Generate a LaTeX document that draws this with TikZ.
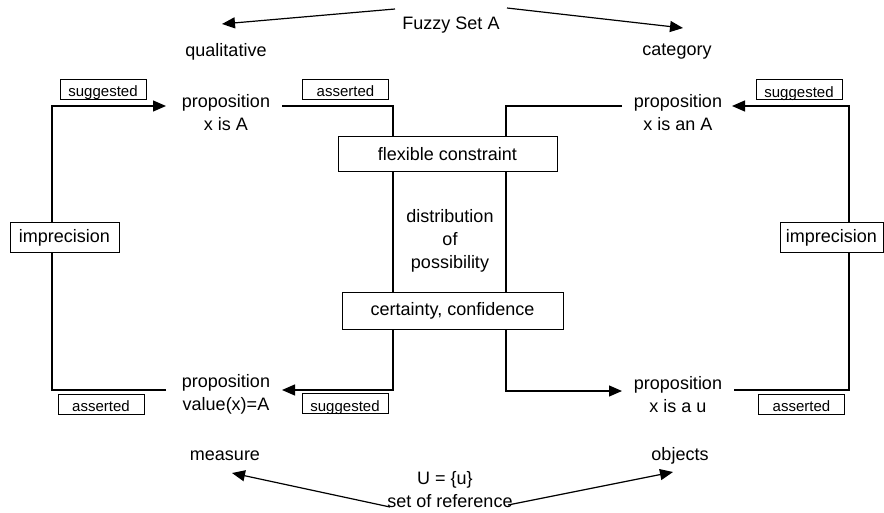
\documentclass[tikz,border=0pt]{standalone}
\usepackage{fontspec}
\setmainfont{Liberation Sans}
\usetikzlibrary{arrows.meta}
\begin{document}
\begin{tikzpicture}[x=1pt,y=-1pt,
  lab/.style={font=\fontsize{18}{23}\selectfont, align=center, inner sep=0pt},
  tag/.style={draw, line width=1pt, font=\fontsize{15}{17}\selectfont, minimum width=86pt, minimum height=20pt, inner sep=0pt, text height=15pt, text depth=0pt, fill=white},
  wbox/.style={draw, line width=1pt, fill=white, font=\fontsize{18}{20}\selectfont, inner sep=0pt},
  ln/.style={line width=1.2pt},
  arr/.style={ln, -{Triangle[length=13pt,width=11pt]}}]
\useasboundingbox (0,0) rectangle (884,513);
% top / bottom labels
\node[lab] (fuzzy) at (451,25) {Fuzzy Set A};
\node[lab] (qual) at (226,52) {qualitative};
\node[lab] (cat) at (677,52) {category};
\node[lab] (meas) at (225,456) {measure};
\node[lab] (obj) at (680,456) {objects};
\node[lab] (U) at (445,480) {U = \{u\}};
\node[lab] (ref) at (450,501) {set of reference};
% propositions
\node[lab] (pTL) at (226,112.5) {proposition\\x is A};
\node[lab] (pTR) at (678,112.5) {proposition\\x is an A};
\node[lab] (pBL) at (226,394.5) {proposition\\value(x)=A};
\node[lab] (pBR) at (678,394.5) {proposition\\x is a u};
\node[lab] (dist) at (450,240.5) {distribution\\of\\possibility};
% coordinates
\coordinate (fzL) at (395,9);
\coordinate (fzR) at (507,8);
\coordinate (qTip) at (222,24);
\coordinate (cTip) at (683,28);
\coordinate (rfL) at (390,507);
\coordinate (rfR) at (508,505);
\coordinate (mTip) at (232,473);
\coordinate (oTip) at (673,472);
% left loop
\coordinate (blOut) at (166,390);
\coordinate (llB) at (52,390);
\coordinate (llT) at (52,106);
\coordinate (tlIn) at (166,106);
% left center
\coordinate (tlOut) at (282,106);
\coordinate (lcT) at (393,106);
\coordinate (lcB) at (393,390);
\coordinate (blIn) at (282,390);
% right center
\coordinate (trOut) at (622,106);
\coordinate (rcT) at (506,106);
\coordinate (rcB) at (506,391);
\coordinate (brIn) at (622,391);
% right loop
\coordinate (trIn) at (732,106);
\coordinate (rlT) at (849,106);
\coordinate (rlB) at (849,390);
\coordinate (brOut) at (734,390);
% connectors
\draw[arr] (fzL) -- (qTip);
\draw[arr] (fzR) -- (cTip);
\draw[arr] (rfL) -- (mTip);
\draw[arr] (rfR) -- (oTip);
\draw[arr] (blOut) -- (llB) -- (llT) -- (tlIn);
\draw[arr] (tlOut) -- (lcT) -- (lcB) -- (blIn);
\draw[arr] (trOut) -- (rcT) -- (rcB) -- (brIn);
\draw[arr] (brOut) -- (rlB) -- (rlT) -- (trIn);
% boxes
\node[wbox, minimum width=109pt, minimum height=30pt] (impL) at (64.5,238) {imprecision};
\node[wbox, minimum width=103pt, minimum height=30pt] (impR) at (831.5,238) {imprecision};
\node[wbox, minimum width=219pt, minimum height=35pt] (flex) at (447.5,154.5) {flexible constraint};
\node[wbox, minimum width=221pt, minimum height=36pt] (cert) at (452.5,311) {certainty, confidence};
% tags
\node[tag] (sTL) at (103,89.5) {suggested};
\node[tag] (aTL) at (345.5,89.5) {asserted};
\node[tag] (sTR) at (799,90) {suggested};
\node[tag] (aBL) at (101,404) {asserted};
\node[tag] (sBL) at (345,403.5) {suggested};
\node[tag] (aBR) at (801.5,404) {asserted};
\end{tikzpicture}
\end{document}
